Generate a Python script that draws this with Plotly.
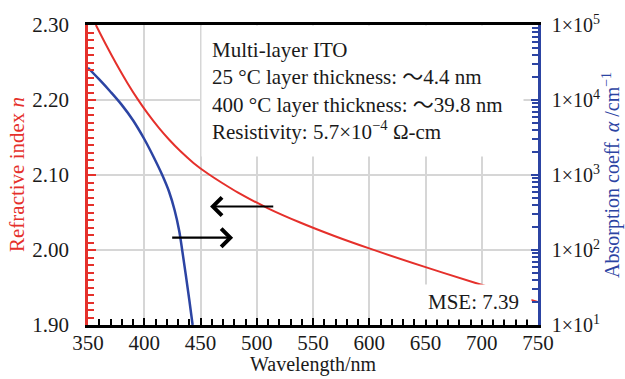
import plotly.graph_objects as go

# ---- data ----
wavelength_n = [357, 366, 375, 385, 394, 403, 413, 422, 432, 444, 457, 470, 483, 510, 538, 569, 600, 648, 696, 750]
n_values = [2.3000, 2.2737, 2.2487, 2.2228, 2.2015, 2.1821, 2.1628, 2.1473, 2.1319, 2.1158, 2.1013, 2.0887,
            2.0769, 2.0556, 2.0370, 2.0187, 2.0021, 1.9781, 1.9553, 1.9305]

wavelength_alpha = [350, 360, 370, 380, 390, 400, 408, 416, 422, 427, 431, 434, 437, 440, 443]
alpha_values = [26900, 18800, 12900, 8610, 5370, 3020, 1780, 1000, 603, 339, 182, 93.3, 45.7, 21.9, 10]

x_ticks = [350, 400, 450, 500, 550, 600, 650, 700, 750]
n_ticks = [1.90, 2.00, 2.10, 2.20, 2.30]
n_ticktext = ["1.90", "2.00", "2.10", "2.20", "2.30"]
alpha_ticks = [1e1, 1e2, 1e3, 1e4, 1e5]
alpha_ticktext = ["1×10<sup>1</sup>", "1×10<sup>2</sup>", "1×10<sup>3</sup>", "1×10<sup>4</sup>", "1×10<sup>5</sup>"]

info_text = ("Multi-layer ITO<br>25 °C layer thickness: ～4.4 nm<br>"
             "400 °C layer thickness: ～39.8 nm<br>Resistivity: 5.7×10<sup>−4</sup> Ω-cm")
mse_text = "MSE: 7.39"

RED = "#e5302b"
BLUE = "#2c44a3"
TXT = "#1a1a1a"
GRID = "#d6d6d6"
FONT = "Liberation Serif, Noto Sans CJK SC, serif"

fig = go.Figure()
fig.add_trace(go.Scatter(x=wavelength_n, y=n_values, mode="lines", line=dict(color=RED, width=2, shape="spline"),
                         yaxis="y", showlegend=False))
fig.add_trace(go.Scatter(x=wavelength_alpha, y=alpha_values, mode="lines",
                         line=dict(color=BLUE, width=2.5, shape="spline"), yaxis="y2", showlegend=False))

fig.update_layout(
    width=625, height=379,
    margin=dict(l=88, r=87, t=22, b=54),
    paper_bgcolor="white", plot_bgcolor="white",
    font=dict(family=FONT, color=TXT, size=20),
    xaxis=dict(range=[350, 750], tickvals=x_ticks, ticks="inside", ticklen=7, tickwidth=2, tickcolor="black",
               showline=True, linecolor="black", linewidth=2.5, mirror=True,
               showgrid=True, gridcolor=GRID, gridwidth=1.5, zeroline=False,
               tickfont=dict(size=21, family=FONT, color=TXT), ticklabelstandoff=-3,
               minor=dict(ticks="inside", ticklen=6, tickwidth=2, tickcolor="black", dtick=10, showgrid=False)),
    xaxis2=dict(range=[350, 750], overlaying="x", anchor="y", side="bottom", tickvals=x_ticks,
                ticks="outside", ticklen=7, tickwidth=2, tickcolor="black",
                showticklabels=False, showline=False, showgrid=False, zeroline=False),
    yaxis=dict(range=[1.90, 2.30], tickvals=n_ticks, ticktext=n_ticktext, ticks="inside", ticklen=8, tickwidth=2,
               tickcolor=RED, showline=True, linecolor=RED, linewidth=2.5,
               showgrid=True, gridcolor=GRID, gridwidth=1.5, zeroline=False,
               tickfont=dict(size=21, family=FONT, color=TXT), ticklabelstandoff=12,
               minor=dict(ticks="inside", ticklen=6, tickwidth=2, tickcolor=RED, dtick=0.01, showgrid=False)),
    yaxis3=dict(range=[1.90, 2.30], overlaying="y", anchor="x", side="left", tickvals=n_ticks,
                ticks="outside", ticklen=8, tickwidth=2, tickcolor=RED,
                showticklabels=False, showline=False, showgrid=False, zeroline=False),
    yaxis2=dict(type="log", range=[1, 5], overlaying="y", side="right", anchor="x",
                tickvals=alpha_ticks, ticktext=alpha_ticktext, ticks="inside", ticklen=7, tickwidth=2,
                tickcolor=BLUE, showline=True, linecolor=BLUE, linewidth=2.5, showgrid=False, zeroline=False,
                tickfont=dict(size=20, family=FONT, color=TXT), ticklabelstandoff=7,
                minor=dict(ticks="inside", ticklen=6, tickwidth=1.5, tickcolor=BLUE, dtick="D1", showgrid=False)),
    yaxis4=dict(type="log", range=[1, 5], overlaying="y", side="right", anchor="x",
                tickvals=alpha_ticks, ticks="outside", ticklen=7, tickwidth=2, tickcolor=BLUE,
                showticklabels=False, showline=False, showgrid=False, zeroline=False),
)

annotations = [
    dict(text=info_text, xref="paper", yref="paper", x=(201 - 88) / 450, y=1 - (22 - 21.7) / 303,
         xanchor="left", yanchor="top", showarrow=False, align="left", valign="middle",
         bgcolor="white", borderpad=10, width=301, height=110,
         font=dict(family=FONT, size=21, color=TXT)),
    dict(text=mse_text, xref="paper", yref="paper", x=(532 - 88) / 450, y=1 - (301 - 21.7) / 303,
         xanchor="right", yanchor="middle", showarrow=False, align="left",
         bgcolor="white", borderpad=5, width=98,
         font=dict(family=FONT, size=21, color=TXT)),
    # arrows
    dict(text="", x=458.5, y=2.058, ax=516, ay=2.058, xref="x", yref="y", axref="x", ayref="y",
         showarrow=True, arrowhead=4, arrowsize=1.6, arrowwidth=2.2, arrowcolor="black"),
    dict(text="", x=479, y=2.0164, ax=423.5, ay=2.0164, xref="x", yref="y", axref="x", ayref="y",
         showarrow=True, arrowhead=4, arrowsize=1.6, arrowwidth=2.2, arrowcolor="black"),
    # axis titles
    dict(text="Refractive index <i>n</i>", xref="paper", yref="paper", x=(17 - 88) / 450, y=0.5,
         xanchor="center", yanchor="middle", textangle=-90, showarrow=False,
         font=dict(family=FONT, size=21, color=RED)),
    dict(text="Absorption coeff. <i>α</i> /cm<sup>−1</sup>", xref="paper", yref="paper",
         x=(611 - 88) / 450, y=0.5, xanchor="center", yanchor="middle", textangle=-90, showarrow=False,
         font=dict(family=FONT, size=20, color=BLUE)),
    dict(text="Wavelength/nm", xref="paper", yref="paper", x=0.5, y=1 - (378.5 - 21.7) / 303,
         xanchor="center", yanchor="bottom", showarrow=False,
         font=dict(family=FONT, size=20, color=TXT)),
]
fig.update_layout(annotations=annotations)

fig.write_html("out.html")
